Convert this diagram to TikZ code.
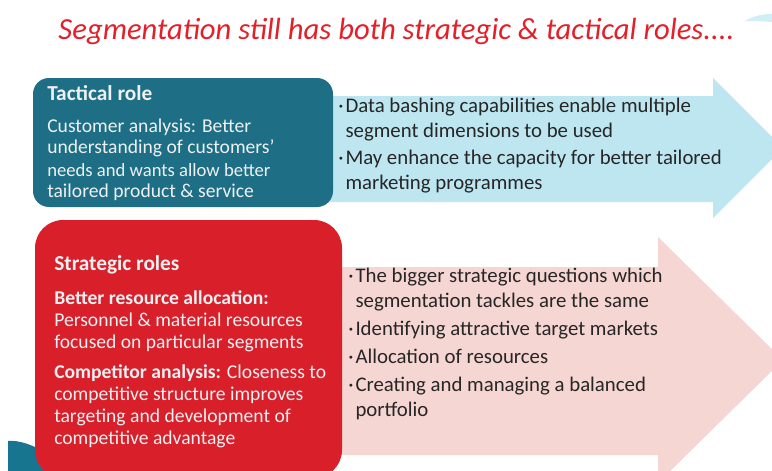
\documentclass[tikz,border=0pt]{standalone}
\usepackage{fontspec}
\setmainfont{Carlito}

\definecolor{titlered}{HTML}{E3202A}
\definecolor{tacteal}{HTML}{1E6E86}
\definecolor{stratred}{HTML}{D81F2A}
\definecolor{tacblue}{HTML}{BDE6F1}
\definecolor{stratpink}{HTML}{F6D6D2}
\definecolor{boxwhite}{HTML}{EDF1F2}
\definecolor{inkgrey}{HTML}{262626}
\definecolor{swoosh}{HTML}{17758F}

\newcommand{\itemdot}{·\hspace{1.5pt}}
\newcommand{\itemgap}{\phantom{·}\hspace{1.5pt}}

\begin{document}
\begin{tikzpicture}[
    x=0.75pt, y=-0.75pt,
    title/.style={anchor=base, inner sep=0pt, text=titlered, font=\fontsize{23}{28}\selectfont\itshape},
    tacbox/.style={fill=tacteal, rounded corners=12pt, minimum width=225pt, minimum height=96.75pt, inner sep=0pt},
    stratbox/.style={fill=stratred, rounded corners=21pt, minimum width=230.25pt, minimum height=193.5pt, inner sep=0pt},
    heading/.style={anchor=base west, inner sep=0pt, text=boxwhite, font=\fontsize{16}{19}\selectfont\bfseries},
    boxtext/.style={anchor=base west, inner sep=0pt, text=boxwhite, font=\fontsize{14.7}{16.5}\selectfont},
    bullets/.style={anchor=base west, inner sep=0pt, text=inkgrey, font=\fontsize{15.6}{18.75}\selectfont}
]
    \useasboundingbox (0,0) rectangle (772,471);
    \clip (0,0) rectangle (772,471);
    \fill[white] (0,0) rectangle (772,471);

    % corner swooshes
    \fill[swoosh] (8,471) -- (8,441) .. controls (20,440) and (32,445) .. (45,452) -- (45,471) -- cycle;
    \fill[tacblue!70] (745,21) .. controls (755,15) and (765,14) .. (772,14) -- (772,22) .. controls (762,21) and (752,21) .. (745,21) -- cycle;

    % arrows
    \fill[tacblue] (300,96) -- (713,96) -- (713,78) -- (783,148) -- (713,218) -- (713,202) -- (300,202) -- cycle;
    \fill[stratpink] (320,267) -- (658,267) -- (658,237) -- (783,360) -- (658,483) -- (658,455) -- (320,455) -- cycle;

    % boxes
    \node[tacbox] (tactical) at (183,142.5) {};
    \node[stratbox] (strategic) at (188.5,349) {};

    \node[title] (title) at (396.5,39) {Segmentation still has both strategic \& tactical roles....};

    \node[heading] (tachead) at (47,100) {Tactical role};
    \node[boxtext] (tactext) at (47,132) {\begin{tabular}[t]{@{}l@{}}
        Customer analysis: Better\\
        understanding of customers'\\
        {\fontsize{14}{16.5}\selectfont needs and wants allow better}\\
        tailored product \& service
    \end{tabular}};

    \node[heading] (strathead) at (54,270) {Strategic roles};
    \node[boxtext] (strattext) at (54,304) {\begin{tabular}[t]{@{}l@{}}
        \textbf{Better resource allocation:}\\
        Personnel \& material resources\\
        focused on particular segments\\[6pt]
        \textbf{Competitor analysis:} Closeness to\\
        competitive structure improves\\
        targeting and development of\\
        competitive advantage
    \end{tabular}};

    \node[bullets] (tacpoints) at (338,112) {\begin{tabular}[t]{@{}l@{}}
        \itemdot Data bashing capabilities enable multiple\\
        \itemgap segment dimensions to be used\\[2.25pt]
        \itemdot May enhance the capacity for better tailored\\
        \itemgap marketing programmes
    \end{tabular}};

    \node[bullets] (stratpoints) at (348,282) {\begin{tabular}[t]{@{}l@{}}
        \itemdot The bigger strategic questions which\\
        \itemgap segmentation tackles are the same\\[2.25pt]
        \itemdot Identifying attractive target markets\\[2.25pt]
        \itemdot Allocation of resources\\[2.25pt]
        \itemdot Creating and managing a balanced\\
        \itemgap portfolio
    \end{tabular}};
\end{tikzpicture}
\end{document}
